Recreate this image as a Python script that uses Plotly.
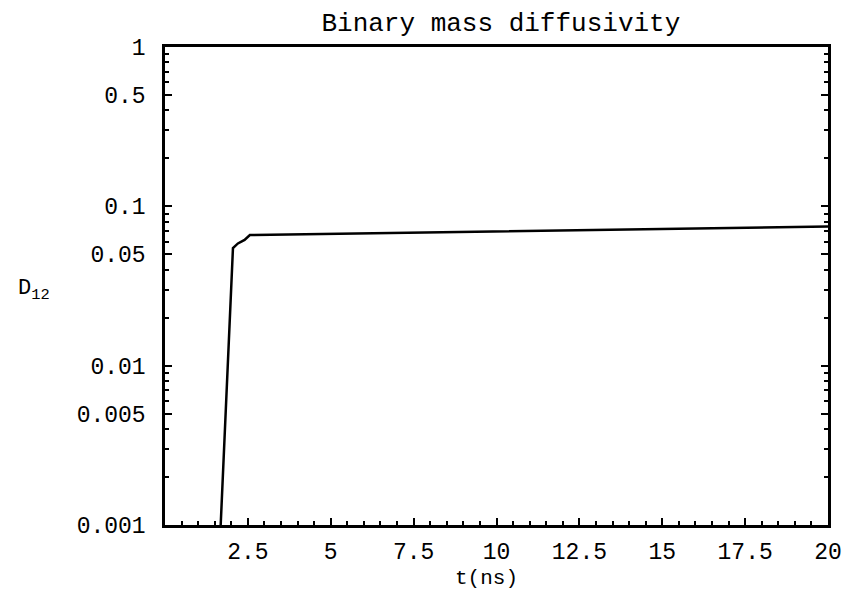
import plotly.graph_objects as go

# Data (time in ns, binary mass diffusivity D12)
t_ns = [1.68, 2.05, 2.2, 2.4, 2.56, 5.0, 7.5, 10.0, 12.5, 15.0, 17.5, 20.0]
d12 = [0.001, 0.0547, 0.0585, 0.0615, 0.066, 0.0672, 0.0684, 0.0696, 0.0708, 0.0721, 0.0733, 0.0746]

x_major = [2.5, 5, 7.5, 10, 12.5, 15, 17.5, 20]
x_major_text = ["2.5", "5", "7.5", "10", "12.5", "15", "17.5", "20"]
x_minor = [v * 0.5 for v in range(1, 41) if (v * 0.5) % 2.5 != 0]

y_major = [0.001, 0.005, 0.01, 0.05, 0.1, 0.5, 1]
y_major_text = ["0.001", "0.005", "0.01", "0.05", "0.1", "0.5", "1"]
y_minor = [m * 10 ** e for e in (-3, -2, -1) for m in (2, 3, 4, 6, 7, 8, 9)]

FONT = "Liberation Mono"

fig = go.Figure()
fig.add_trace(go.Scatter(x=t_ns, y=d12, mode="lines",
                         line=dict(color="black", width=2.5),
                         showlegend=False))

fig.update_layout(
    width=854, height=589,
    paper_bgcolor="white", plot_bgcolor="white",
    margin=dict(l=165, r=17, t=47, b=64),
    font=dict(family=FONT, color="black", size=23),
    title=dict(text="Binary mass diffusivity", x=0.5865, xanchor="center",
               y=0.963, yanchor="middle", font=dict(family=FONT, size=26, color="black")),
)

fig.update_xaxes(
    range=[0, 20], showgrid=False, zeroline=False,
    showline=True, linecolor="black", linewidth=2.5, mirror=True,
    ticks="inside", ticklen=7, tickwidth=2, tickcolor="black",
    tickmode="array", tickvals=x_major, ticktext=x_major_text,
    ticklabelstandoff=4,
    tickfont=dict(family=FONT, size=23, color="black"),
    minor=dict(tickmode="array", tickvals=x_minor, ticks="inside", ticklen=4,
               tickwidth=2, tickcolor="black", showgrid=False),
)

fig.update_yaxes(
    type="log", range=[-3, 0], showgrid=False, zeroline=False,
    showline=True, linecolor="black", linewidth=2.5, mirror="allticks",
    ticks="inside", ticklen=7, tickwidth=2, tickcolor="black",
    tickmode="array", tickvals=y_major, ticktext=y_major_text,
    ticklabelstandoff=12,
    tickfont=dict(family=FONT, size=23, color="black"),
    minor=dict(tickmode="array", tickvals=y_minor, ticks="inside", ticklen=4,
               tickwidth=2, tickcolor="black", showgrid=False),
)

fig.add_annotation(text="t(ns)", xref="paper", yref="paper",
                   x=(491 - 165) / (854 - 165 - 17), y=-(578 - 525) / (525 - 47),
                   xanchor="center", yanchor="middle", showarrow=False,
                   font=dict(family=FONT, size=21, color="black"))
fig.add_annotation(text="D<sub>12</sub>", xref="paper", yref="paper",
                   x=-(165 - 14) / (854 - 165 - 17), y=(525 - 290) / (525 - 47),
                   xanchor="left", yanchor="middle", showarrow=False,
                   font=dict(family=FONT, size=22, color="black"))

fig.write_html("out.html")
